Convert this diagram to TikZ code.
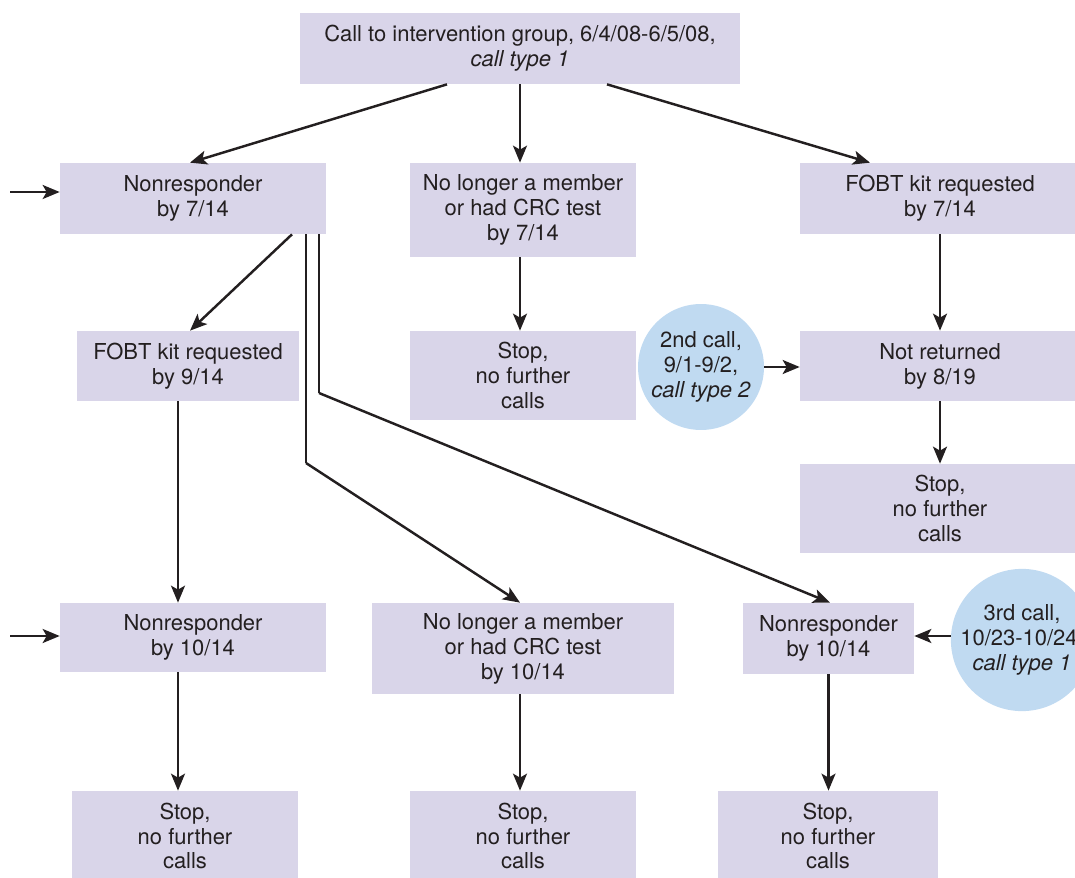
\documentclass[tikz,border=0pt]{standalone}
\usepackage{fontspec}
\setmainfont{TeX Gyre Heros}
\usepackage{xcolor}
\usetikzlibrary{arrows.meta,calc}

\definecolor{boxfill}{RGB}{217,213,233}
\definecolor{callfill}{RGB}{192,218,241}
\definecolor{ink}{RGB}{35,31,32}

\tikzset{
  stage/.style={fill=boxfill, inner sep=0pt, align=center, text=ink,
    font=\fontsize{12.5}{14.2}\selectfont},
  callnode/.style={circle, fill=callfill, inner sep=0pt, minimum size=2.52cm,
    align=center, text=ink, font=\fontsize{12.5}{14.2}\selectfont},
  flow/.style={draw=ink, line width=1.4pt,
    -{Stealth[length=0.34cm,width=0.28cm,inset=0.08cm]}},
  link/.style={draw=ink, line width=1.4pt}
}

\begin{document}
\begin{tikzpicture}[x=0.02cm,y=-0.02cm]
\useasboundingbox (0,0) rectangle (1075,878);

% Riquadri
\node[stage, minimum width=8.8cm, minimum height=1.42cm] (top) at (520,48.5)
  {Call to intervention group, 6/4/08-6/5/08,\\ \textit{call type 1}};

\node[stage, minimum width=5.32cm, minimum height=1.42cm] (nrA) at (193,198.5)
  {Nonresponder\\ by 7/14};
\node[stage, minimum width=4.52cm, minimum height=1.88cm] (goneA) at (523,210)
  {No longer a member\\ or had CRC test\\ by 7/14};
\node[stage, minimum width=5.6cm, minimum height=1.42cm] (kitA) at (940,198.5)
  {FOBT kit requested\\ by 7/14};

\node[stage, minimum width=4.44cm, minimum height=1.4cm] (kitB) at (188,366)
  {FOBT kit requested\\ by 9/14};
\node[stage, minimum width=4.52cm, minimum height=1.78cm] (stopA) at (523,375.5)
  {Stop,\\ no further\\ calls};
\node[stage, minimum width=5.6cm, minimum height=1.4cm] (notret) at (940,366)
  {Not returned\\ by 8/19};
\node[stage, minimum width=5.6cm, minimum height=1.78cm] (stopB) at (940,508.5)
  {Stop,\\ no further\\ calls};

\node[stage, minimum width=5.32cm, minimum height=1.38cm] (nrB) at (193,637.5)
  {Nonresponder\\ by 10/14};
\node[stage, minimum width=6.04cm, minimum height=1.82cm] (goneB) at (523,648.5)
  {No longer a member\\ or had CRC test\\ by 10/14};
\node[stage, minimum width=3.42cm, minimum height=1.42cm] (nrC) at (828.5,638.5)
  {Nonresponder\\ by 10/14};

\node[stage, minimum width=4.52cm, minimum height=1.8cm] (stopC) at (185,836)
  {Stop,\\ no further\\ calls};
\node[stage, minimum width=4.52cm, minimum height=1.8cm] (stopD) at (523,836)
  {Stop,\\ no further\\ calls};
\node[stage, minimum width=4.4cm, minimum height=1.8cm] (stopE) at (828,836)
  {Stop,\\ no further\\ calls};

% Chiamate successive
\node[callnode] (callB) at (701,367) {2nd call,\\ 9/1-9/2,\\ \textit{call type 2}};
\node[callnode] (callC) at (1022,640) {3rd call,\\ 10/23-10/24,\\ \textit{call type 1}};

% Punti di appoggio
\coordinate (inA) at (10,192);
\coordinate (inB) at (10,636);
\coordinate (outA) at ($(kitB.south)+(-10,0)$);
\coordinate (outB) at ($(goneA.south)+(-3,0)$);
\coordinate (outC) at ($(nrB.south)+(-15,0)$);
\coordinate (outD) at ($(goneB.south)+(-3,0)$);
\coordinate (bendA) at (306,463);
\coordinate (bendB) at (319,393);

% Frecce dalla prima chiamata
\draw[flow] ($(top.south)+(-73,0)$) -- ($(nrA.north)+(-3,0)$);
\draw[flow] (top.south) -- (top.south |- goneA.north);
\draw[flow] ($(top.south)+(87,0)$) -- ($(kitA.north)+(-70,0)$);
\draw[flow] (inA) -- (inA -| nrA.west);

% Rami dei nonresponder
\draw[flow] ($(nrA.south)+(99,0)$) -- ($(kitB.north)+(2,0)$);
\draw[link] (bendA |- nrA.south) -- (bendA);
\draw[flow] (bendA) -- ($(goneB.north)+(-3,0)$);
\draw[link] (bendB |- nrA.south) -- (bendB);
\draw[flow] (bendB) -- ($(nrC.north)+(1.5,0)$);

% Verticali
\draw[flow] (outA) -- (outA |- nrB.north);
\draw[flow] (outB) -- (outB |- stopA.north);
\draw[flow] (kitA.south) -- (notret.north);
\draw[flow] (callB.east) -- (callB.east -| notret.west);
\draw[flow] (notret.south) -- (stopB.north);
\draw[flow] (inB) -- (inB -| nrB.west);
\draw[flow] (callC.west |- inB) -- (nrC.east |- inB);
\draw[flow] (outC) -- (outC |- stopC.north);
\draw[flow] (outD) -- (outD |- stopD.north);
\draw[flow] (nrC.south) -- (nrC.south |- stopE.north);
\end{tikzpicture}
\end{document}
